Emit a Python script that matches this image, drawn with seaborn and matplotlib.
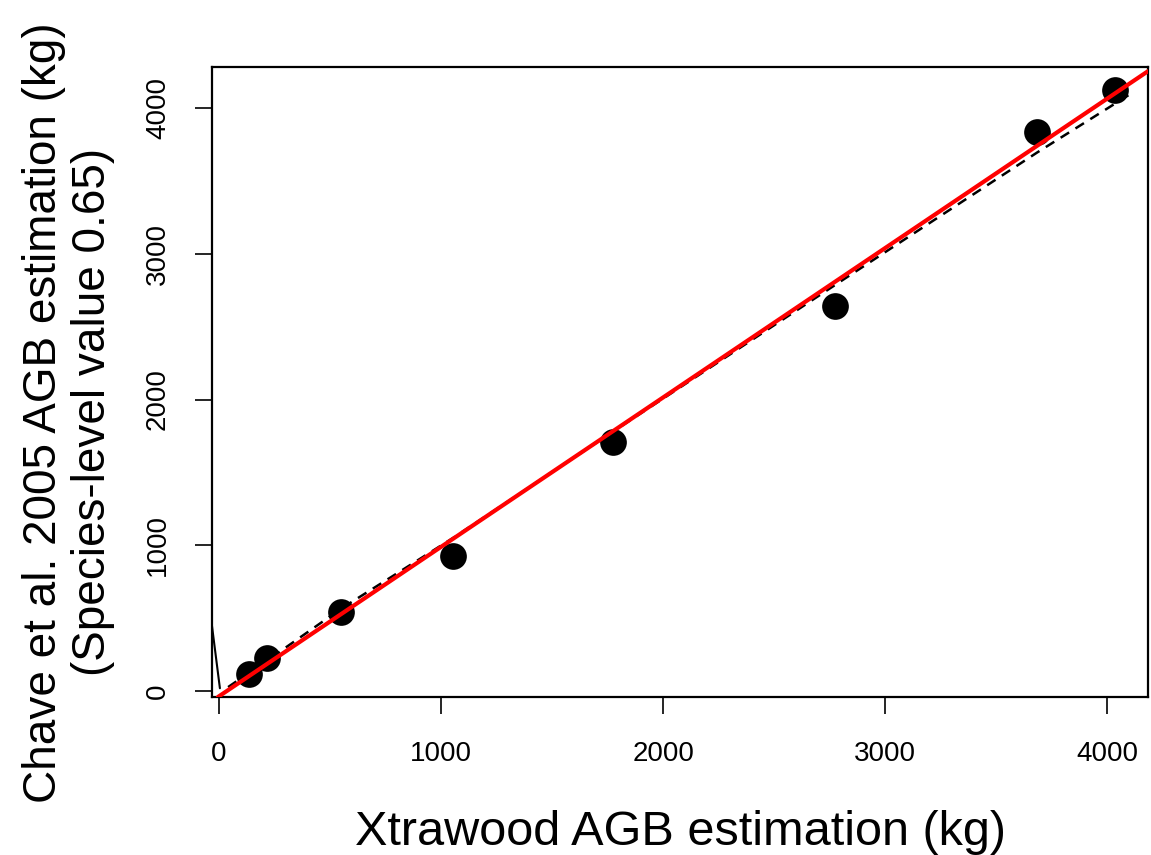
import numpy as np
import pandas as pd
import matplotlib
matplotlib.use("Agg")
import matplotlib.pyplot as plt
import seaborn as sns

# values
xtrawood_agb = [135, 216, 550, 1054, 1775, 2775, 3685, 4036]
chave_agb = [117, 226, 542, 926, 1708, 2641, 3835, 4123]

# dashed reference curve
dash_x = [41, 284, 550, 1054, 1775, 2775, 3685, 4112]
dash_y = [27, 281, 565, 1050, 1780, 2786, 3695, 4103]

# short thin line at the left border
edge_x = [-40, 4]
edge_y = [547, 19]

# red fitted line
fit_intercept = -36
fit_slope = 1.025

ticks = [0, 1000, 2000, 3000, 4000]

sns.set_style("ticks")
plt.rcParams['font.family'] = ['Liberation Sans', 'DejaVu Sans']
plt.rcParams['text.color'] = 'black'
plt.rcParams['axes.labelcolor'] = 'black'
plt.rcParams['xtick.color'] = 'black'
plt.rcParams['ytick.color'] = 'black'

fig = plt.figure(figsize=(11.51, 8.55), dpi=100)
ax = fig.add_axes([0.1842, 0.1848, 0.8132, 0.7368])

pts = pd.DataFrame({"x": xtrawood_agb, "y": chave_agb})
sns.scatterplot(data=pts, x="x", y="y", ax=ax, s=370, color="black",
                edgecolor="black", linewidth=0, zorder=3)

dash_df = pd.DataFrame({"x": dash_x, "y": dash_y})
sns.lineplot(data=dash_df, x="x", y="y", ax=ax, sort=False, estimator=None,
             color="black", lw=1.8, zorder=2)
ax.lines[-1].set_dashes((4, 3))

edge_df = pd.DataFrame({"x": edge_x, "y": edge_y})
sns.lineplot(data=edge_df, x="x", y="y", ax=ax, sort=False, estimator=None,
             color="black", lw=1.5, zorder=2)

ax.axline((0, fit_intercept), slope=fit_slope, color="red", lw=3, zorder=4)

ax.set_xlim(-31.5, 4184)
ax.set_ylim(-41, 4281)
ax.set_xticks(ticks)
ax.set_yticks(ticks)
ax.set_xticklabels([str(t) for t in ticks], fontsize=20)
ax.set_yticklabels([str(t) for t in ticks], fontsize=20, rotation=90, va="center")
ax.tick_params(axis="both", length=12.5, width=1.2, color="black")
ax.tick_params(axis="x", pad=19)
ax.tick_params(axis="y", pad=17)

for sp in ax.spines.values():
    sp.set_visible(True)
    sp.set_linewidth(1.6)
    sp.set_color("black")

ax.set_xlabel("Xtrawood AGB estimation (kg)", fontsize=35, labelpad=31)
ax.set_ylabel("Chave et al. 2005 AGB estimation (kg)\n(Species-level value 0.65)",
              fontsize=33, linespacing=1.15)
ax.yaxis.set_label_coords(-0.104, 0.452)

fig.savefig("out.png", dpi=100)
